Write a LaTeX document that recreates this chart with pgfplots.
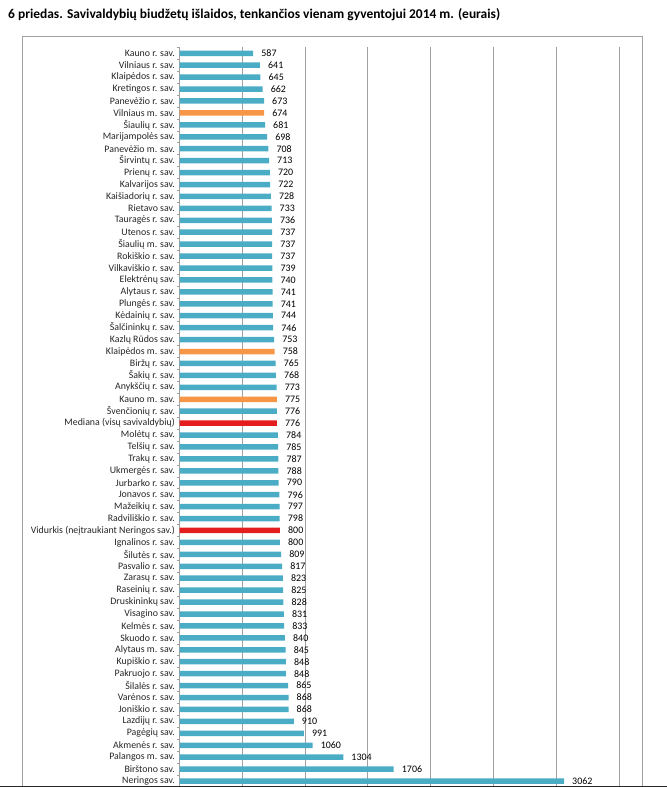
\documentclass[border=0pt]{standalone}
\usepackage{pgfplots}
\pgfplotsset{compat=1.18}
\usepackage{fontspec}
\setmainfont{Carlito}
\definecolor{barblue}{RGB}{75,172,198}
\definecolor{barorange}{RGB}{247,150,70}
\definecolor{barred}{RGB}{228,30,30}
\definecolor{gridgray}{RGB}{160,160,160}
\begin{document}
\begin{tikzpicture}[x=1bp,y=1bp]
\path[use as bounding box] (0,0) rectangle (667,787);
\node[anchor=base west, inner sep=0pt, font=\bfseries\fontsize{13.5}{15}\selectfont] at (8,768) {6 priedas. Savivaldybių biudžetų išlaidos, tenkančios vienam gyventojui 2014 m. (eurais)};
\draw[gridgray, line width=0.8bp] (22,0) |- (642,751) -- (642,0);
\begin{axis}[
  at={(179.5bp,0bp)}, anchor=south west,
  scale only axis, width=439.5bp, height=739.7bp,
  xmin=0, xmax=3500, ymin=-0.5, ymax=61.5, y dir=reverse,
  xbar, bar width=5.5bp,
  axis line style={draw=none},
  xtick={0,500,...,3500}, xticklabels={},
  xmajorgrids, grid style={gridgray, line width=0.8bp},
  major x tick style={draw=none},
  ytick={0,...,61}, ytick pos=left, tick align=outside,
  major y tick style={draw=none},
  minor ytick={-0.5,0.5,...,61.5},
  minor y tick style={gridgray, line width=0.6bp},
  minor tick length=3bp, major tick length=3bp,
  yticklabel style={font=\fontsize{9.9}{11}\selectfont, text=black!85, inner sep=1.5bp},
  yticklabels={
    Kauno r. sav., Vilniaus r. sav., Klaipėdos r. sav., Kretingos r. sav., Panevėžio r. sav.,
    Vilniaus m. sav., Šiaulių r. sav., Marijampolės sav., Panevėžio m. sav., Širvintų r. sav.,
    Prienų r. sav., Kalvarijos sav., Kaišiadorių r. sav., Rietavo sav., Tauragės r. sav.,
    Utenos r. sav., Šiaulių m. sav., Rokiškio r. sav., Vilkaviškio r. sav., Elektrėnų sav.,
    Alytaus r. sav., Plungės r. sav., Kėdainių r. sav., Šalčininkų r. sav., Kazlų Rūdos sav.,
    Klaipėdos m. sav., Biržų r. sav., Šakių r. sav., Anykščių r. sav., Kauno m. sav.,
    Švenčionių r. sav., Mediana (visų savivaldybių), Molėtų r. sav., Telšių r. sav., Trakų r. sav.,
    Ukmergės r. sav., Jurbarko r. sav., Jonavos r. sav., Mažeikių r. sav., Radviliškio r. sav.,
    Vidurkis (neįtraukiant Neringos sav.), Ignalinos r. sav., Šilutės r. sav., Pasvalio r. sav., Zarasų r. sav.,
    Raseinių r. sav., Druskininkų sav., Visagino sav., Kelmės r. sav., Skuodo r. sav.,
    Alytaus m. sav., Kupiškio r. sav., Pakruojo r. sav., Šilalės r. sav., Varėnos r. sav.,
    Joniškio r. sav., Lazdijų r. sav., Pagėgių sav., Akmenės r. sav., Palangos m. sav.,
    Birštono sav., Neringos sav.},
  /pgf/number format/1000 sep={},
  /pgf/number format/assume math mode=true,
  nodes near coords,
  every node near coord/.append style={anchor=west, inner sep=0pt, xshift=8bp, font=\fontsize{10}{11}\selectfont, text=black},
]
\addplot[fill=barblue, draw=none, bar shift=0pt] coordinates {
(587,0) (641,1) (645,2) (662,3) (673,4) (681,6) (698,7) (708,8) (713,9)
(720,10) (722,11) (728,12) (733,13) (736,14) (737,15) (737,16) (737,17) (739,18) (740,19)
(741,20) (741,21) (744,22) (746,23) (753,24) (765,26) (768,27) (773,28)
(776,30) (784,32) (785,33) (787,34) (788,35) (790,36) (796,37) (797,38) (798,39)
(800,41) (809,42) (817,43) (823,44) (825,45) (828,46) (831,47) (833,48) (840,49)
(845,50) (848,51) (848,52) (865,53) (868,54) (868,55) (910,56) (991,57) (1060,58) (1304,59)
(1706,60) (3062,61)
};
\addplot[fill=barorange, draw=none, bar shift=0pt] coordinates {
(674,5) (758,25) (775,29)
};
\addplot[fill=barred, draw=none, bar shift=0pt] coordinates {
(776,31) (800,40)
};
\end{axis}
\draw[black!85, line width=1.5bp] (0,0.75) -- (667,0.75);
\end{tikzpicture}
\end{document}
